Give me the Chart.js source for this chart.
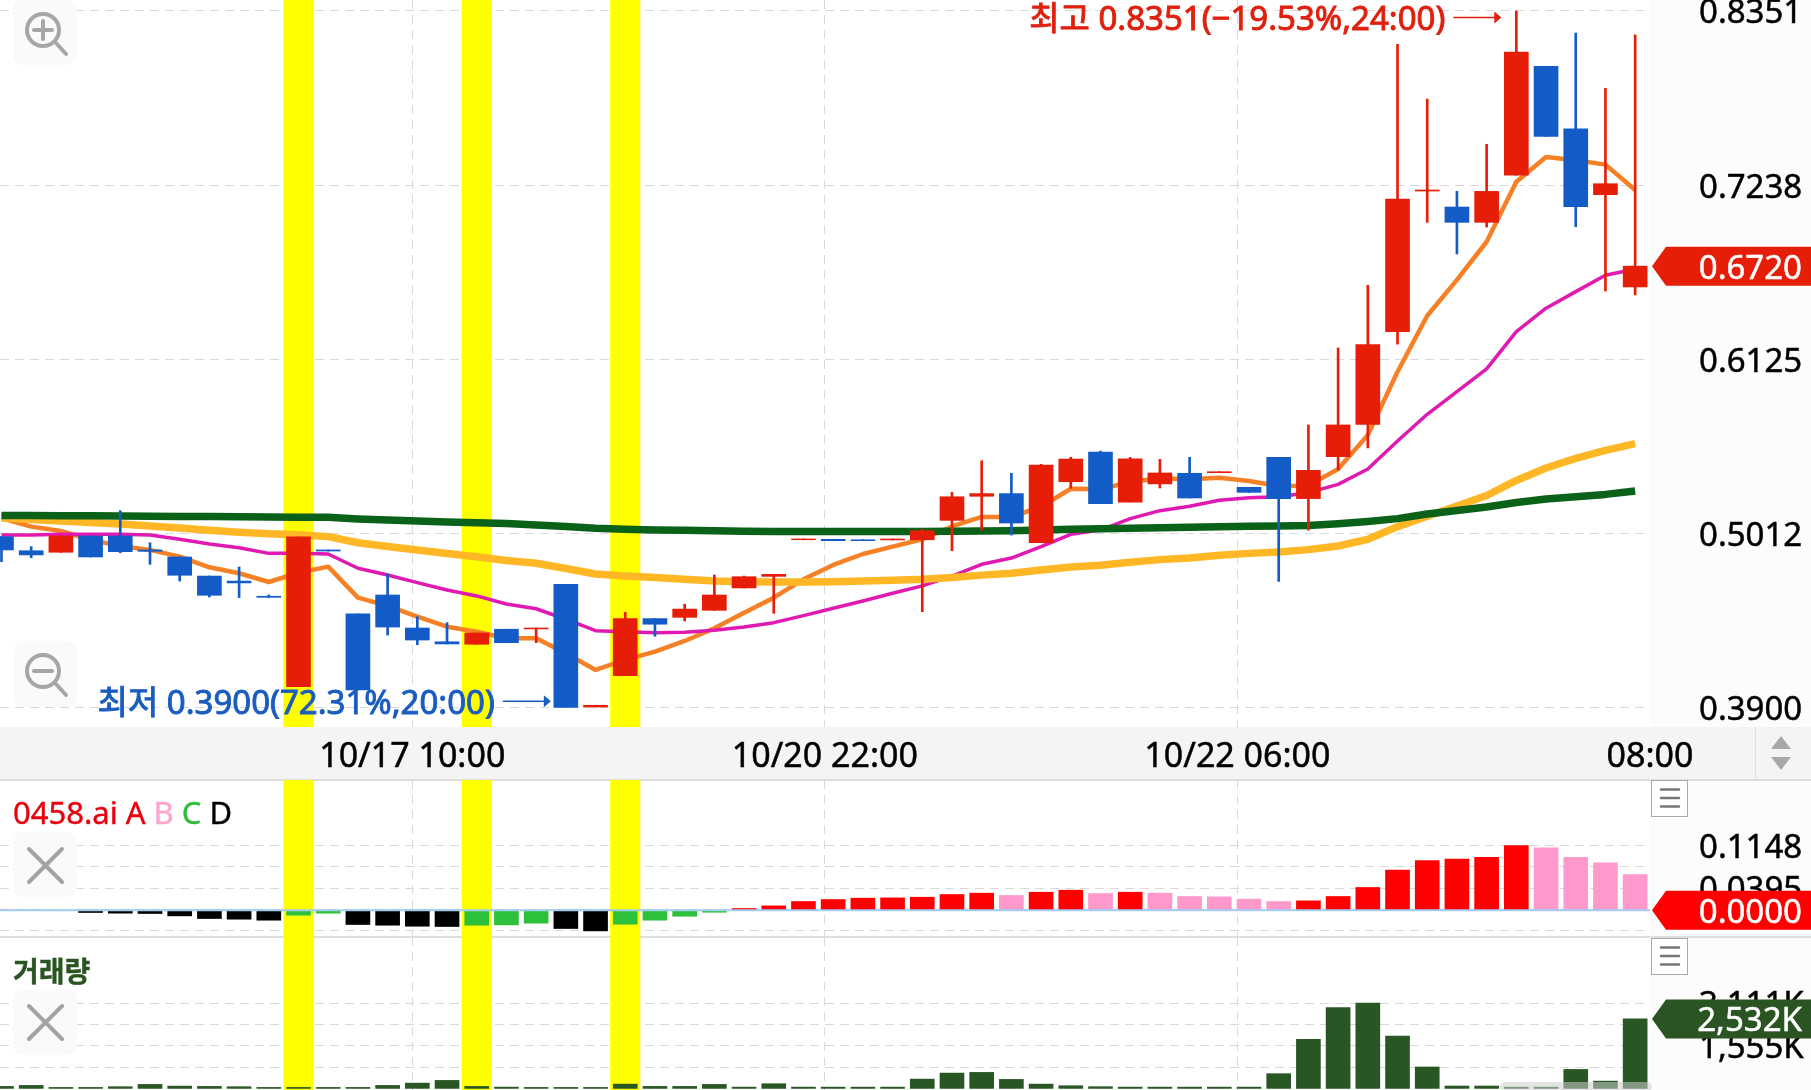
<!DOCTYPE html>
<html lang="ko">
<head>
<meta charset="utf-8">
<title>0458.ai chart</title>
<script src="https://cdn.jsdelivr.net/npm/chart.js@4"></script>
<style>
html, body { margin: 0; padding: 0; background: #fff; overflow: hidden; }
#wrap { position: relative; width: 1811px; height: 1090px; font-family: "Noto Sans", "Noto Sans CJK KR", sans-serif; }
#wrap canvas { position: absolute; left: 0; }
.bg { position: absolute; }
.title { position: absolute; left: 13px; white-space: nowrap; line-height: 1; -webkit-text-stroke: 0.4px; }
</style>
</head>
<body>
<div id="wrap">
  <div class="bg" style="left:1650px;top:0;width:161px;height:1090px;background:#fcfcfc"></div>
  <div class="bg" style="left:0;top:727px;width:1811px;height:52px;background:#f4f4f4"></div>
  <div class="bg" style="left:0;top:779px;width:1811px;height:2px;background:#dedede"></div>
  <div class="bg" style="left:1755px;top:727px;width:1px;height:52px;background:#dedede"></div>
  <div class="bg" style="left:0;top:936px;width:1811px;height:2px;background:#dedede"></div>
  <canvas id="priceChart" width="1811" height="780" style="top:0"></canvas>
  <canvas id="oscChart" width="1811" height="157" style="top:780px"></canvas>
  <canvas id="volChart" width="1811" height="153" style="top:937px"></canvas>
  <div class="title" style="top:797px;font-size:31px;color:#e8000d">0458.ai A <span style="color:#ffa5d0">B</span> <span style="color:#2dbd3c">C</span> <span style="color:#000">D</span></div>
  <div class="title" style="top:957px;font-size:28px;font-weight:bold;color:#2a5523">거래량</div>
  <svg width="1811" height="1090" style="position:absolute;left:0;top:0" fill="none" stroke-linecap="round">
    <rect x="13" y="-1" width="64" height="66" rx="10" fill="#fafafa"/>
    <circle cx="43" cy="30" r="16" stroke="#a6a6a6" stroke-width="4"/>
    <path d="M34 30H52M43 21V39M56 43L66 54" stroke="#a6a6a6" stroke-width="4"/>
    <rect x="13" y="641" width="64" height="66" rx="10" fill="#fafafa"/>
    <circle cx="43" cy="671" r="16" stroke="#a6a6a6" stroke-width="4"/>
    <path d="M34 671H52M56 684L66 695" stroke="#a6a6a6" stroke-width="4"/>
    <rect x="13" y="832" width="64" height="65" rx="10" fill="#fafafa"/>
    <path d="M29 849L62 882M62 849L29 882" stroke="#a3a3a3" stroke-width="4"/>
    <rect x="13" y="989" width="64" height="66" rx="10" fill="#fafafa"/>
    <path d="M29 1006L62 1039M62 1006L29 1039" stroke="#a3a3a3" stroke-width="4"/>
    <rect x="1651.5" y="780.5" width="36" height="36" fill="#fff" stroke="#aaa"/>
    <path d="M1661 789.5H1679M1661 798H1679M1661 806.5H1679" stroke="#777" stroke-width="2.5"/>
    <rect x="1651.5" y="938.5" width="36" height="36" fill="#fff" stroke="#aaa"/>
    <path d="M1661 947.5H1679M1661 956H1679M1661 964.5H1679" stroke="#777" stroke-width="2.5"/>
    <path d="M1781 736L1791 749H1771ZM1771 757H1791L1781 770Z" fill="#a8a8a8"/>
    <rect x="1500" y="1082" width="152" height="10" rx="5" fill="rgba(205,205,205,0.55)"/>
  </svg>
</div>
<script>
// candles, oldest first
var open = [.4991,.4901,.4891,.4995,.4995,.4906,.4861,.4739,.4707,.4610,.4032,.4906,.4497,.4618,.4407,.4319,.4303,.4399,.4401,.4686,.3902,.4102,.4467,.4475,.4520,.4663,.4737,.4971,.4974,.4971,.4970,.4971,.5095,.5249,.5266,.4952,.5342,.5532,.5212,.5328,.5396,.5400,.5306,.5498,.5234,.5502,.5709,.6301,.7200,.7098,.7000,.7301,.7997,.7597,.7177,.6587];
var close = [.4906,.4874,.4995,.4861,.4895,.4897,.4744,.4616,.4695,.4603,.4989,.4899,.4011,.4413,.4330,.4305,.4375,.4313,.4407,.3900,.3913,.4467,.4431,.4528,.4618,.4735,.4750,.4976,.4965,.4965,.4976,.5029,.5246,.5266,.5078,.5449,.5487,.5202,.5489,.5398,.5238,.5406,.5274,.5234,.5415,.5705,.6218,.7149,.7207,.7000,.7198,.8089,.7550,.7100,.7247,.6720];
var high = [.4991,.4927,.4995,.4995,.5157,.4952,.4861,.4739,.4797,.4618,.4989,.4906,.4497,.4752,.4479,.4441,.4375,.4399,.4407,.4686,.3913,.4507,.4467,.4559,.4746,.4739,.4750,.4976,.4974,.4971,.4976,.5038,.5274,.5476,.5396,.5453,.5498,.5538,.5498,.5485,.5498,.5406,.5306,.5498,.5705,.6197,.6598,.8138,.7788,.7198,.7499,.8351,.7997,.8210,.7857,.8199];
var low = [.4831,.4856,.4891,.4861,.4888,.4814,.4707,.4605,.4601,.4603,.4032,.4899,.4011,.4362,.4300,.4305,.4303,.4313,.4313,.3900,.3902,.4102,.4354,.4452,.4520,.4663,.4501,.4971,.4965,.4965,.4970,.4511,.4901,.5033,.5001,.4952,.5300,.5202,.5212,.5302,.5238,.5400,.5274,.4705,.5033,.5417,.5558,.6222,.7000,.6798,.6970,.7301,.7550,.6972,.6561,.6536];

// moving averages
var maOrange = [.5108,.5055,.5027,.4970,.4931,.4906,.4863,.4795,.4757,.4701,.4760,.4799,.4601,.4548,.4479,.4415,.4383,.4341,.4341,.4245,.4139,.4203,.4256,.4324,.4405,.4505,.4601,.4718,.4810,.4880,.4927,.4974,.5056,.5117,.5117,.5182,.5297,.5295,.5340,.5364,.5358,.5368,.5347,.5315,.5317,.5423,.5641,.6045,.6403,.6632,.6876,.7260,.7418,.7397,.7369,.7207];
var maMagenta = [.5001,.5001,.5006,.5006,.5006,.5001,.4974,.4944,.4920,.4884,.4884,.4880,.4789,.4746,.4697,.4650,.4612,.4560,.4530,.4463,.4390,.4383,.4377,.4380,.4392,.4413,.4441,.4486,.4533,.4580,.4629,.4676,.4739,.4814,.4854,.4927,.5006,.5033,.5106,.5157,.5185,.5223,.5240,.5246,.5272,.5325,.5423,.5602,.5773,.5918,.6063,.6301,.6451,.6557,.6662,.6702];
var maAmber = [.5110,.5101,.5091,.5081,.5072,.5059,.5046,.5032,.5019,.5010,.5003,.4991,.4952,.4928,.4906,.4883,.4863,.4839,.4821,.4787,.4752,.4739,.4729,.4718,.4707,.4703,.4701,.4701,.4703,.4707,.4712,.4718,.4730,.4745,.4757,.4778,.4797,.4808,.4827,.4844,.4854,.4872,.4884,.4893,.4908,.4931,.4974,.5055,.5121,.5187,.5254,.5350,.5430,.5491,.5542,.5586];
var maGreen = [.5126,.5126,.5125,.5124,.5123,.5122,.5120,.5119,.5118,.5117,.5115,.5115,.5104,.5097,.5091,.5085,.5080,.5075,.5065,.5056,.5044,.5038,.5034,.5031,.5028,.5026,.5024,.5023,.5023,.5023,.5023,.5023,.5025,.5027,.5029,.5033,.5038,.5041,.5045,.5048,.5051,.5054,.5057,.5059,.5062,.5073,.5088,.5106,.5136,.5158,.5180,.5209,.5231,.5246,.5261,.5283];

// lower panels
var oscValues = [.0009,-.0004,-.0004,-.0041,-.0053,-.0059,-.0101,-.0148,-.0160,-.0178,-.0089,-.0053,-.0255,-.0267,-.0285,-.0290,-.0267,-.0262,-.0231,-.0326,-.0368,-.0249,-.0178,-.0107,-.0036,.0030,.0077,.0155,.0190,.0214,.0219,.0231,.0279,.0303,.0262,.0320,.0356,.0297,.0320,.0303,.0244,.0237,.0196,.0155,.0166,.0244,.0404,.0712,.0885,.0908,.0943,.1152,.1109,.0943,.0842,.0635];
var volValues = [73,109,36,36,62,146,84,73,62,36,36,36,36,109,193,292,73,47,36,36,36,157,73,73,146,47,171,47,47,47,47,339,558,583,328,157,98,62,47,47,47,47,47,536,1786,2941,3111,1910,780,87,87,47,47,692,266,2532];

// highlighted candles
var bandIdx = [10, 16, 21];

// axes
var priceTicks = [.8351, .7238, .6125, .5012, .39];
var oscTicks = [.1148, .0771, .0395, .0018, -.0358];
var oscLabels = ['0.1148', '', '0.0395', '', ''];
var volTicks = [3111, 2333, 1555, 778];
var volLabels = ['3,111K', '', '1,555K', ''];
var timeTicks = [13.83, 27.72, 41.61, 55.5];
var timeLabels = ['10/17 10:00', '10/20 22:00', '10/22 06:00', '08:00'];
var xMin = -0.05, xMax = 55.5;

var UP = '#e61e08', DOWN = '#135cc8', FONT = '"Noto Sans", "Noto Sans CJK KR", sans-serif';

function pts(arr) {
    return arr.map(function(v, i) { return {x: i, y: v}; });
}

function lineSet(arr, color, width, order) {
    return {type: 'line', data: pts(arr), borderColor: color, borderWidth: width, pointRadius: 0, tension: 0, order: order, borderJoinStyle: 'round'};
}

function bandSet(yMin, yMax) {
    return {
        type: 'bar', order: 20, grouped: false, barThickness: 29.5, backgroundColor: '#ffff00',
        data: bandIdx.map(function(i) { return {x: i, y: [yMin, yMax]}; })
    };
}

function noPadding(scale) {
    scale.paddingTop = 0; scale.paddingBottom = 0; scale.paddingLeft = 0; scale.paddingRight = 0;
}

function xAxis(showLabels) {
    return {
        type: 'linear', min: xMin, max: xMax, offset: false,
        afterBuildTicks: function(s) { s.ticks = timeTicks.map(function(v) { return {value: v}; }); },
        afterFit: function(s) { s.height = showLabels ? 53 : 0; noPadding(s); },
        border: {display: false, dash: [9, 6]},
        grid: {
            offset: false, drawTicks: false,
            color: function(c) { return c.tick && c.tick.value >= xMax ? 'transparent' : '#d9d9d9'; }
        },
        ticks: {
            display: showLabels, autoSkip: false, maxRotation: 0, padding: 10, color: '#000',
            textStrokeWidth: 0.5, textStrokeColor: '#000',
            font: {family: FONT, size: 34},
            callback: function(v, i) { return timeLabels[i]; }
        }
    };
}

function yAxis(yMin, yMax, tickVals, fmt) {
    return {
        position: 'right', min: yMin, max: yMax,
        afterBuildTicks: function(s) { s.ticks = tickVals.map(function(v) { return {value: v}; }); },
        afterFit: function(s) { s.width = 161; noPadding(s); },
        border: {display: false, dash: [9, 6]},
        grid: {drawTicks: false, color: '#d9d9d9'},
        ticks: {
            autoSkip: false, padding: 49, labelOffset: 3, color: '#000',
            textStrokeWidth: 0.5, textStrokeColor: '#000',
            font: {family: FONT, size: 33}, callback: fmt
        }
    };
}

// the pointed label on the right axis
var tagPlugin = {
    id: 'tag',
    afterDraw: function(chart, args, o) {
        var c = chart.ctx, y = chart.scales.y.getPixelForValue(o.value);
        c.save();
        c.fillStyle = o.color;
        c.beginPath();
        c.moveTo(1652, y); c.lineTo(1666, y - 19.5); c.lineTo(1811, y - 19.5);
        c.lineTo(1811, y + 19.5); c.lineTo(1666, y + 19.5); c.closePath();
        c.fill();
        c.fillStyle = '#fff';
        c.strokeStyle = '#fff';
        c.lineWidth = 0.5;
        c.font = '33px ' + FONT;
        c.textAlign = 'right';
        c.textBaseline = 'middle';
        c.fillText(o.text, 1802, y + 3);
        c.strokeText(o.text, 1802, y + 3);
        c.restore();
    }
};

// high / low notes with the arrow pointing at the candle
var notePlugin = {
    id: 'note',
    afterDatasetsDraw: function(chart, args, o) {
        var c = chart.ctx;
        o.items.forEach(function(n) {
            var tip = chart.scales.x.getPixelForValue(n.idx) - 15;
            var y = chart.scales.y.getPixelForValue(n.value) + n.dy;
            c.save();
            c.fillStyle = n.color;
            c.strokeStyle = n.color;
            c.lineWidth = 1.5;
            c.beginPath(); c.moveTo(tip - 48, y); c.lineTo(tip - 6, y); c.stroke();
            c.beginPath(); c.moveTo(tip, y); c.lineTo(tip - 7, y - 6); c.lineTo(tip - 7, y + 6); c.closePath(); c.fill();
            c.lineWidth = 0.9;
            c.font = '33px ' + FONT;
            c.textAlign = 'right';
            c.textBaseline = 'middle';
            c.fillText(n.text, tip - 56, y + 3);
            c.strokeText(n.text, tip - 56, y + 3);
            c.restore();
        });
    }
};

var candleColors = close.map(function(v, i) { return v >= open[i] ? UP : DOWN; });

new Chart(document.getElementById('priceChart').getContext('2d'), {
    data: {
        datasets: [
            bandSet(.37741, .84213),
            lineSet(maOrange, '#f58025', 4.5, 6),
            lineSet(maMagenta, '#e01ab0', 3.5, 5),
            lineSet(maAmber, '#ffb726', 7.5, 4),
            lineSet(maGreen, '#0a6118', 7.5, 3),
            {
                type: 'bar', order: 2, grouped: false, barThickness: 2, backgroundColor: candleColors,
                data: high.map(function(h, i) { return {x: i, y: [low[i], h]}; })
            },
            {
                type: 'bar', order: 1, grouped: false, barThickness: 24, backgroundColor: candleColors,
                data: open.map(function(o, i) { return {x: i, y: [o, close[i]]}; })
            }
        ]
    },
    options: {
        responsive: false, animation: false,
        layout: {padding: 0},
        scales: {
            x: xAxis(true),
            y: yAxis(.37741, .84213, priceTicks, function(v) { return v.toFixed(4); })
        },
        plugins: {
            legend: {display: false}, tooltip: {enabled: false},
            tag: {value: close[55], text: '0.6720', color: UP},
            note: {items: [
                {idx: 51, value: high[51], dy: 6.5, color: '#e0200e', text: '최고 0.8351(−19.53%,24:00)'},
                {idx: 19, value: low[19], dy: -6, color: '#1a5cc0', text: '최저 0.3900(72.31%,20:00)'}
            ]}
        }
    },
    plugins: [tagPlugin, notePlugin]
});

new Chart(document.getElementById('oscChart').getContext('2d'), {
    data: {
        datasets: [
            bandSet(-.0477, .2317),
            {type: 'line', order: 1, data: [{x: xMin, y: 0}, {x: xMax, y: 0}], borderColor: '#a3cdf0', borderWidth: 2, pointRadius: 0},
            {
                type: 'bar', order: 2, grouped: false, barThickness: 24,
                backgroundColor: oscValues.map(function(v, i) {
                    var rising = i > 0 && v >= oscValues[i - 1];
                    if (v >= 0) return rising ? '#ff0000' : '#ff99cc';
                    return rising ? '#2dc03a' : '#000000';
                }),
                data: pts(oscValues)
            }
        ]
    },
    options: {
        responsive: false, animation: false,
        layout: {padding: 0},
        scales: {
            x: xAxis(false),
            y: yAxis(-.0477, .2317, oscTicks, function(v, i) { return oscLabels[i]; })
        },
        plugins: {
            legend: {display: false}, tooltip: {enabled: false},
            tag: {value: 0, text: '0.0000', color: '#ff0000'}
        }
    },
    plugins: [tagPlugin]
});

new Chart(document.getElementById('volChart').getContext('2d'), {
    data: {
        datasets: [
            bandSet(-58, 5517),
            {type: 'bar', order: 1, grouped: false, barThickness: 24, backgroundColor: '#295724', data: pts(volValues)}
        ]
    },
    options: {
        responsive: false, animation: false,
        layout: {padding: 0},
        scales: {
            x: xAxis(false),
            y: yAxis(-58, 5517, volTicks, function(v, i) { return volLabels[i]; })
        },
        plugins: {
            legend: {display: false}, tooltip: {enabled: false},
            tag: {value: volValues[55], text: '2,532K', color: '#2a5523'}
        }
    },
    plugins: [tagPlugin]
});
</script>
</body>
</html>
